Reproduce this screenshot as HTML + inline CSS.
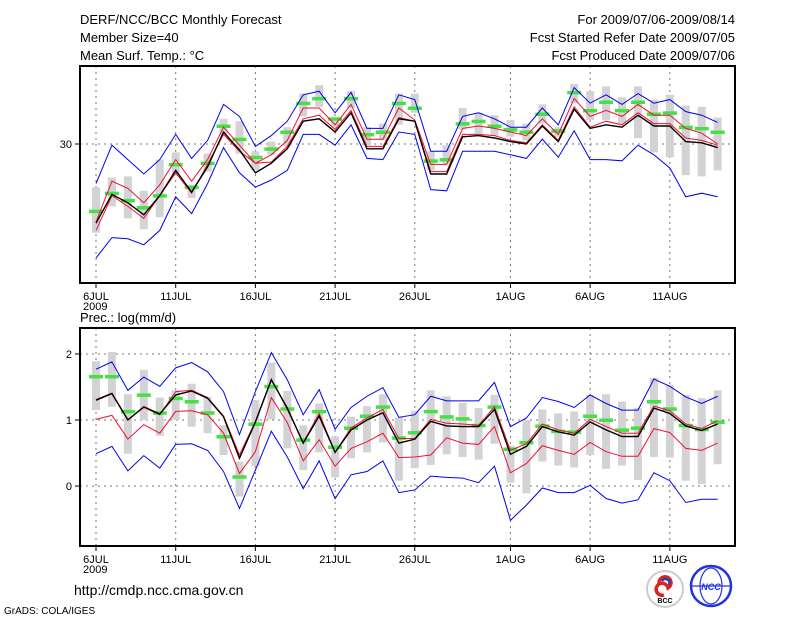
<!DOCTYPE html>
<html><head><meta charset="utf-8"><style>
html,body{margin:0;padding:0;background:#fff;}
svg{display:block;font-family:"Liberation Sans",sans-serif;}
</style></head><body>
<svg id="chart" width="800" height="618" viewBox="0 0 800 618" xmlns="http://www.w3.org/2000/svg">
<g font-size="13" fill="#000">
<text x="80" y="24">DERF/NCC/BCC Monthly Forecast</text>
<text x="80" y="42">Member Size=40</text>
<text x="80" y="60">Mean Surf. Temp.: °C</text>
<text x="735" y="24" text-anchor="end">For 2009/07/06-2009/08/14</text>
<text x="735" y="42" text-anchor="end">Fcst Started Refer Date 2009/07/05</text>
<text x="735" y="60" text-anchor="end">Fcst Produced Date 2009/07/06</text>
<text x="80" y="322">Prec.: log(mm/d)</text>
</g>
<g id="top"></g>
<g id="bot"></g>
<text x="74" y="595" font-size="14">http://cmdp.ncc.cma.gov.cn</text>
<text x="4" y="614" font-size="10">GrADS: COLA/IGES</text>
<g>
<circle cx="665" cy="589" r="18" fill="#fff" stroke="#ccc" stroke-width="2"/>
<path d="M659 583 a6 6 0 1 1 9 5 a6 6 0 1 0 -4 7" fill="none" stroke="#d22" stroke-width="3.5"/>
<path d="M662 581 a4 4 0 1 1 7 4" fill="none" stroke="#24a" stroke-width="2.5"/>
<text x="665" y="603" font-size="7" text-anchor="middle" font-weight="bold">BCC</text>
</g>
<g>
<circle cx="711" cy="586" r="20" fill="#fff" stroke="#23d" stroke-width="2.5"/>
<ellipse cx="711" cy="586" rx="11" ry="18" fill="none" stroke="#23d" stroke-width="1.2"/>
<line x1="692" y1="586" x2="730" y2="586" stroke="#23d" stroke-width="1.2"/>
<text x="711" y="590" font-size="9" text-anchor="middle" fill="#23d" font-weight="bold" font-style="italic">NCC</text>
</g>
</svg>
<script>
const days = ["6JUL","11JUL","16JUL","21JUL","26JUL","1AUG","6AUG","11AUG"];
const tickDayIdx = [0,5,10,15,20,26,31,36];
// temperature panel data (°C)
const tBlueHi = [26.7,29.9,28.7,27.5,28.7,30.8,28.8,30.3,33.3,32.3,29.8,30.7,31.9,34.1,34.4,32.6,34.3,31.3,31.3,34.1,33.7,29.4,29.4,32.3,32.6,32.1,31.4,31.4,33.0,31.6,34.7,33.4,34.1,33.3,34.2,33.4,33.7,32.7,32.4,31.8];
const tRedHi = [23.5,26.9,26.3,25.1,26.6,28.7,26.9,28.7,31.4,29.9,28.4,29.1,30.3,33.0,33.0,31.6,33.3,30.4,30.4,33.0,32.0,28.3,28.3,31.3,31.5,31.3,31.0,30.7,32.1,30.8,33.8,32.3,32.8,32.3,33.3,32.4,32.4,31.3,30.9,30.0];
const tMean = [23.4,25.8,25.1,24.1,25.7,27.8,26.0,28.1,31.0,29.5,27.6,28.4,29.6,31.9,32.1,31.0,32.6,29.6,29.6,32.1,31.9,27.5,27.5,30.6,30.7,30.5,30.2,30.0,31.5,30.2,32.9,31.3,31.6,31.4,32.4,31.5,31.5,30.2,30.1,29.7];
const tRedLo = [22.8,25.7,24.8,23.8,25.7,27.6,25.9,28.3,30.8,29.4,28.4,28.5,29.8,32.1,32.4,31.2,32.8,29.8,29.8,32.2,31.9,27.7,27.7,30.8,30.8,30.7,30.3,30.1,31.6,30.3,33.1,31.4,31.9,31.6,32.6,31.7,31.7,30.5,30.3,29.9];
const tBlueLo = [20.5,22.2,22.1,21.6,22.8,25.6,24.2,26.7,29.7,27.6,26.4,27.0,27.8,30.8,30.8,29.9,31.6,28.8,28.7,31.0,30.8,26.2,26.1,29.4,29.4,29.4,29.1,28.8,30.4,28.9,31.1,28.7,28.7,28.6,29.9,29.1,28.0,25.6,25.9,25.6];
const tGreen = [24.4,25.9,25.3,24.7,25.7,28.3,26.4,28.4,31.5,30.4,28.9,29.6,31.0,33.4,33.8,32.1,33.8,30.8,31.0,33.4,33.0,28.6,28.7,31.7,31.9,31.5,31.2,31.0,32.5,31.1,34.3,32.8,33.5,32.8,33.5,32.5,32.6,31.4,31.3,31.0];
const tBoxHi = [26.4,27.2,27.3,26.1,28.7,29.3,26.6,29.2,32.1,31.9,29.4,30.2,31.4,34.2,34.9,32.1,34.4,31.4,31.7,34.2,34.2,29.4,29.9,33.0,32.6,32.4,32.0,31.7,33.3,31.4,35.0,34.4,34.8,33.9,34.8,33.7,34.1,33.2,33.1,32.2];
const tBoxLo = [22.6,24.8,23.8,22.9,23.9,27.3,25.5,27.7,30.8,29.2,27.8,29.1,29.8,32.3,33.1,31.3,33.0,29.9,30.3,31.6,32.6,27.8,28.3,31.2,30.8,30.7,30.6,30.3,31.7,30.6,33.4,32.0,32.0,31.7,30.5,29.3,28.9,27.4,27.3,27.8];
// precipitation panel data (log mm/d)
const pBlueHi = [1.77,1.88,1.45,1.65,1.51,1.79,1.87,1.73,1.43,0.78,1.43,2.02,1.61,1.08,1.46,0.86,1.19,1.36,1.49,1.04,1.08,1.36,1.29,1.29,1.29,1.57,0.90,1.03,1.34,1.28,1.19,1.38,1.25,1.15,1.15,1.62,1.51,1.35,1.25,1.36];
const pRedHi = [1.31,1.41,1.01,1.19,1.08,1.43,1.45,1.34,1.06,0.47,0.98,1.62,1.16,0.66,1.10,0.51,0.88,1.03,1.16,0.72,0.72,1.01,0.95,0.94,0.92,1.20,0.54,0.64,0.94,0.85,0.80,1.01,0.90,0.80,0.80,1.21,1.14,0.94,0.87,0.99];
const pMean = [1.30,1.40,1.00,1.20,1.09,1.38,1.44,1.33,1.05,0.42,0.97,1.61,1.18,0.65,1.06,0.51,0.85,1.00,1.11,0.65,0.71,0.98,0.91,0.90,0.90,1.16,0.48,0.60,0.90,0.82,0.77,0.97,0.85,0.75,0.75,1.18,1.10,0.91,0.84,0.94];
const pRedLo = [1.01,1.07,0.71,0.93,0.80,1.13,1.14,1.08,0.80,0.19,0.52,1.34,0.96,0.38,0.70,0.30,0.57,0.67,0.80,0.43,0.44,0.47,0.73,0.65,0.63,0.90,0.20,0.34,0.61,0.54,0.48,0.66,0.52,0.45,0.45,0.87,0.81,0.57,0.54,0.65];
const pBlueLo = [0.49,0.60,0.23,0.46,0.27,0.63,0.64,0.54,0.22,-0.34,0.24,0.83,0.44,-0.04,0.38,-0.19,0.17,0.22,0.38,-0.10,-0.06,0.15,0.13,0.12,0.05,0.30,-0.52,-0.29,-0.03,-0.10,-0.10,0.01,-0.19,-0.26,-0.21,0.20,0.08,-0.25,-0.20,-0.20];
const pGreen = [1.66,1.66,1.13,1.38,1.11,1.33,1.28,1.11,0.75,0.14,0.94,1.51,1.17,0.70,1.13,0.59,0.88,1.06,1.20,0.73,0.81,1.13,1.05,1.02,0.92,1.20,0.56,0.66,0.91,0.83,0.82,1.06,1.00,0.85,0.88,1.28,1.17,0.92,0.86,0.97];
const pBoxHi = [1.89,2.03,1.39,1.76,1.34,1.45,1.55,1.35,0.92,0.37,1.30,1.87,1.44,0.92,1.25,0.75,1.05,1.21,1.39,1.04,1.14,1.45,1.36,1.26,1.18,1.38,0.61,1.00,1.16,1.10,1.13,1.38,1.39,1.28,1.18,1.64,1.53,1.38,1.33,1.45];
const pBoxLo = [1.15,1.20,0.49,1.00,0.76,1.00,0.90,0.80,0.47,-0.16,0.30,1.01,0.57,0.24,0.51,0.13,0.42,0.51,0.66,0.08,0.27,0.32,0.48,0.44,0.40,0.64,0.05,-0.11,0.37,0.31,0.28,0.47,0.26,0.31,0.09,0.44,0.43,0.08,0.03,0.33];
const tTicks = [30];
const pTicks = [0,1,2];

const NS = "http://www.w3.org/2000/svg";
const X0 = 96, DX = 15.94;
const xOf = i => X0 + DX * i;
const yT = v => 144 - (v - 30) * 12;
const yP = v => 486 - v * 66;

function mk(parent, tag, attrs) {
  const e = document.createElementNS(NS, tag);
  for (const k in attrs) e.setAttribute(k, attrs[k]);
  parent.appendChild(e);
  return e;
}

function panel(g, top, bottom, yf, ticks, hiB, hiR, mean, loR, loB, green, boxHi, boxLo, pre) {
  const L = 80, R = 735;
  tickDayIdx.forEach(i => {
    const l = mk(g, "line", {x1: xOf(i), x2: xOf(i), y1: top, y2: bottom, stroke: "#777", "stroke-dasharray": "2,4", "stroke-width": 1});
    
    
    const t = mk(g, "line", {x1: xOf(i), x2: xOf(i), y1: bottom, y2: bottom + 5, stroke: "#000"});
    
    
  });
  ticks.forEach(v => {
    const l = mk(g, "line", {x1: L, x2: R, y1: yf(v), y2: yf(v), stroke: "#777", "stroke-dasharray": "2,4"});
    
    
    const tk = mk(g, "line", {x1: L - 5, x2: L, y1: yf(v), y2: yf(v), stroke: "#000"});
    
    
    const tx = mk(g, "text", {x: L - 8, y: yf(v) + 4, "font-size": 11, "text-anchor": "end"});
    tx.textContent = String(v);
    
    
  });
  boxHi.forEach((v, i) => {
    const r = mk(g, "rect", {x: xOf(i) - 4, y: yf(v), width: 8, height: yf(boxLo[i]) - yf(v), fill: "#d3d3d6"});
    
    
  });
  green.forEach((v, i) => {
    const r = mk(g, "rect", {x: xOf(i) - 7, y: yf(v) - 1.5, width: 14, height: 3.5, fill: "#44e044"});
    
    
  });
  const series = [[hiB, "#0000ee", "blue-upper"], [loB, "#0000ee", "blue-lower"], [hiR, "#ee1133", "red-upper"], [loR, "#ee1133", "red-lower"], [mean, "#000", "ensemble-mean"]];
  series.forEach(s => {
    const p = mk(g, "polyline", {points: s[0].map((v, i) => xOf(i) + "," + yf(v)).join(" "), fill: "none", stroke: s[1], "stroke-width": s[2] === "ensemble-mean" ? 1.4 : 1});
    
    
  });
  const fr = mk(g, "rect", {x: L, y: top, width: R - L, height: bottom - top, fill: "none", stroke: "#000", "stroke-width": 2});
  
  
  days.forEach((d, k) => {
    const t = mk(g, "text", {x: xOf(tickDayIdx[k]), y: bottom + 17, "font-size": 11, "text-anchor": "middle"});
    t.textContent = d;
    
    
  });
  const yr = mk(g, "text", {x: xOf(0) - 13, y: bottom + 27, "font-size": 11});
  yr.textContent = "2009";
  
  
}
panel(document.getElementById("top"), 66, 283, yT, tTicks, tBlueHi, tRedHi, tMean, tRedLo, tBlueLo, tGreen, tBoxHi, tBoxLo, "temp");
panel(document.getElementById("bot"), 328, 546, yP, pTicks, pBlueHi, pRedHi, pMean, pRedLo, pBlueLo, pGreen, pBoxHi, pBoxLo, "prec");
</script>
</body></html>
